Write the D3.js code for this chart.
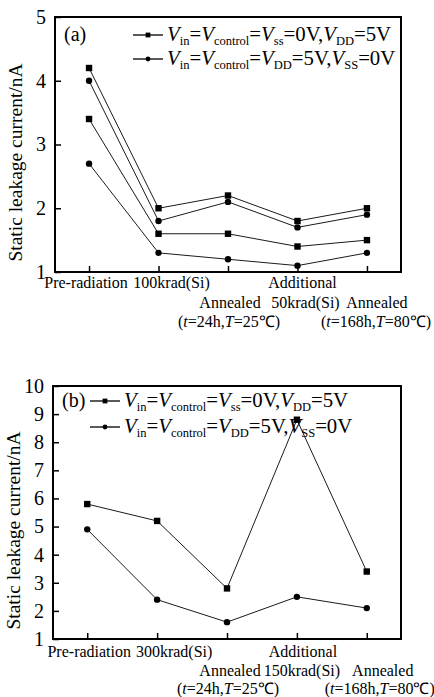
<!DOCTYPE html>
<html>
<head>
<meta charset="utf-8">
<script src="https://cdn.jsdelivr.net/npm/d3@7"></script>
<style>
  html, body { margin: 0; padding: 0; background: #fff; }
  svg { display: block; font-family: "Liberation Serif", "Times New Roman", serif; }
</style>
</head>
<body>
<div id="chart"></div>
<script>
// 数据
const stagesA = ['Pre-radiation', '100krad(Si)', 'Annealed 24h', 'Additional 50krad(Si)', 'Annealed 168h']
const stagesB = ['Pre-radiation', '300krad(Si)', 'Annealed 24h', 'Additional 150krad(Si)', 'Annealed 168h']
const aSquare1 = [4.2, 2.0, 2.2, 1.8, 2.0]
const aCircle1 = [4.0, 1.8, 2.1, 1.7, 1.9]
const aSquare2 = [3.4, 1.6, 1.6, 1.4, 1.5]
const aCircle2 = [2.7, 1.3, 1.2, 1.1, 1.3]
const bSquare = [5.8, 5.2, 2.8, 8.8, 3.4]
const bCircle = [4.9, 2.4, 1.6, 2.5, 2.1]
const ticksA = [1, 2, 3, 4, 5]
const ticksB = [1, 2, 3, 4, 5, 6, 7, 8, 9, 10]
const yTitle = 'Static leakage current/nA'

// x轴标签，三行
const labelRowsA = [
  ['Pre-radiation', '100krad(Si)', '', 'Additional', ''],
  ['', '', 'Annealed', '50krad(Si)', 'Annealed'],
  ['', '', '(t=24h,T=25℃)', '', '(t=168h,T=80℃)']
]
const labelRowsB = [
  ['Pre-radiation', '300krad(Si)', '', 'Additional', ''],
  ['', '', 'Annealed', '150krad(Si)', 'Annealed'],
  ['', '', '(t=24h,T=25℃)', '', '(t=168h,T=80℃)']
]

// 图例文字片段
const legend1 = [['V', 'i'], ['in', 's'], ['='], ['V', 'i'], ['control', 's'], ['='], ['V', 'i'], ['ss', 's'], ['=0V,'], ['V', 'i'], ['DD', 's'], ['=5V']]
const legend2 = [['V', 'i'], ['in', 's'], ['='], ['V', 'i'], ['control', 's'], ['='], ['V', 'i'], ['DD', 's'], ['=5V,'], ['V', 'i'], ['SS', 's'], ['=0V']]

const svg = d3.select('#chart').append('svg').attr('width', 434).attr('height', 697)

const richText = (g, x, y, parts, size, subSize) => {
  const t = g.append('text').attr('x', x).attr('y', y).attr('font-size', size).attr('fill', '#000')
  let sub = false
  parts.forEach(p => {
    const s = t.append('tspan').text(p[0])
    if (p[1] === 'i') s.attr('font-style', 'italic')
    if (p[1] === 's') {
      s.attr('font-size', subSize)
      if (!sub) s.attr('dy', 4.2)
      sub = true
    } else if (sub) {
      s.attr('dy', -4.2)
      sub = false
    }
  })
  return t
}

// 带斜体 t, T 的括号标签
const paren = (g, x, y, str) => {
  const t = g.append('text').attr('x', x).attr('y', y).attr('text-anchor', 'middle').attr('font-size', 16)
  str.split(/(t|T)(?==)/).forEach(s => {
    if (!s) return
    const sp = t.append('tspan').text(s)
    if (s === 't' || s === 'T') sp.attr('font-style', 'italic')
  })
}

const marker = (g, type, x, y, size) => {
  if (type === 'square') {
    g.append('rect').attr('x', x - size / 2).attr('y', y - size / 2).attr('width', size).attr('height', size).attr('fill', '#000')
  } else {
    g.append('circle').attr('cx', x).attr('cy', y).attr('r', size / 2).attr('fill', '#000')
  }
}

const drawPanel = (cfg) => {
  const g = svg.append('g')
  const x = d3.scalePoint().domain(cfg.stages).range([cfg.left, cfg.right]).padding(0.49)
  const y = d3.scaleLinear().domain(cfg.yDomain).range([cfg.bottom, cfg.top])

  // 数据线
  const line = d3.line().x((d, i) => x(cfg.stages[i])).y(d => y(d))
  cfg.series.forEach(s => {
    g.append('path').attr('d', line(s.values)).attr('fill', 'none').attr('stroke', '#000').attr('stroke-width', 0.9)
    s.values.forEach((v, i) => marker(g, s.type, x(cfg.stages[i]), y(v), 6.4))
  })

  // 坐标轴，刻度朝内
  const yAxis = g.append('g').attr('transform', `translate(${cfg.left},0)`)
    .call(d3.axisLeft(y).tickValues(cfg.ticks).tickSize(-6).tickPadding(9).tickFormat(d3.format('d')))
  yAxis.select('.domain').remove()
  yAxis.selectAll('line').attr('stroke-width', 1.5)
  yAxis.selectAll('text').attr('font-size', 20).attr('font-family', 'Liberation Serif')
  const xAxis = g.append('g').attr('transform', `translate(0,${cfg.bottom})`)
    .call(d3.axisBottom(x).tickSize(-6).tickFormat(''))
  xAxis.select('.domain').remove()
  xAxis.selectAll('line').attr('stroke-width', 1.5)

  g.append('rect').attr('x', cfg.left).attr('y', cfg.top)
    .attr('width', cfg.right - cfg.left).attr('height', cfg.bottom - cfg.top)
    .attr('fill', 'none').attr('stroke', '#000').attr('stroke-width', 2)

  // x轴标签
  cfg.labels.forEach((row, r) => {
    row.forEach((lab, i) => {
      if (!lab) return
      const px = x(cfg.stages[i]) + cfg.labelDx[r][i]
      const py = cfg.bottom + cfg.labelY0 + r * cfg.labelStep
      if (lab[0] === '(') paren(g, px, py, lab)
      else g.append('text').attr('x', px).attr('y', py).attr('text-anchor', 'middle').attr('font-size', 16).text(lab)
    })
  })

  // y轴标题
  g.append('text')
    .attr('transform', `translate(${cfg.left - 33},${(cfg.top + cfg.bottom) / 2 + 18}) rotate(-90)`)
    .attr('text-anchor', 'middle').attr('font-size', 19.5).text(yTitle)

  // 面板标记
  g.append('text').attr('x', cfg.left + 9).attr('y', cfg.legendY[0]).attr('font-size', 20).text(cfg.tag)

  // 图例
  ;[['square', legend1], ['circle', legend2]].forEach((l, k) => {
    const ly = cfg.legendY[k]
    g.append('line').attr('x1', cfg.legendX).attr('x2', cfg.legendX + 30)
      .attr('y1', ly - 6).attr('y2', ly - 6).attr('stroke', '#000').attr('stroke-width', 1.3)
    marker(g, l[0], cfg.legendX + 15, ly - 6, 4.8)
    richText(g, cfg.legendX + 34, ly, l[1], 20.8, 12.5)
  })
}

drawPanel({
  stages: stagesA, left: 55, right: 401, top: 17, bottom: 272, yDomain: [1, 5], ticks: ticksA,
  series: [
    { type: 'square', values: aSquare1 }, { type: 'circle', values: aCircle1 },
    { type: 'square', values: aSquare2 }, { type: 'circle', values: aCircle2 }
  ],
  labels: labelRowsA, labelDx: [[-3, 13, 0, 5, 0], [0, 0, 2, 8, 10], [0, 0, 1, 0, 9]],
  labelY0: 16, labelStep: 19.5,
  tag: '(a)', legendX: 133, legendY: [41, 65]
})

drawPanel({
  stages: stagesB, left: 53, right: 401, top: 386, bottom: 639, yDomain: [1, 10], ticks: ticksB,
  series: [{ type: 'square', values: bSquare }, { type: 'circle', values: bCircle }],
  labels: labelRowsB, labelDx: [[2, 17, 0, 6, 0], [0, 0, 3, 5, 16], [0, 0, 1, 0, 13]],
  labelY0: 18, labelStep: 18.5,
  tag: '(b)', legendX: 90, legendY: [407, 433]
})
</script>
</body>
</html>
